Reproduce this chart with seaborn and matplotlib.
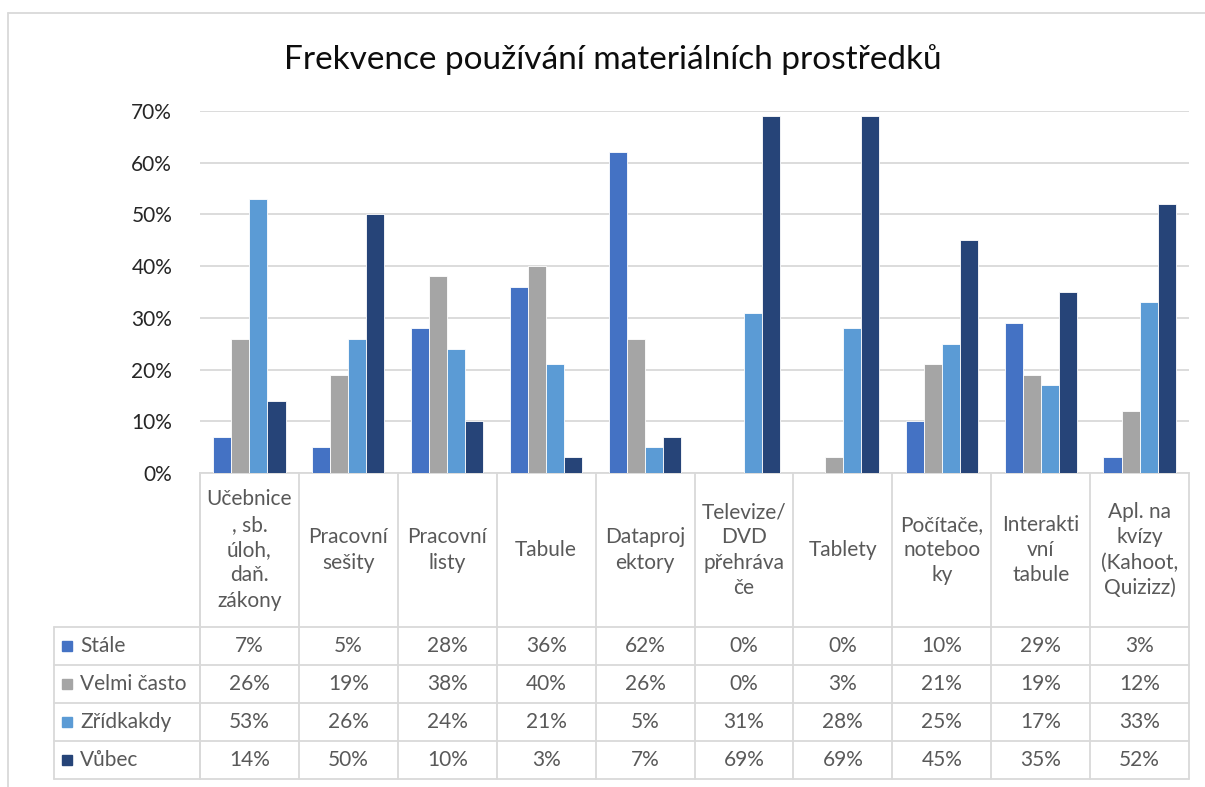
import matplotlib.pyplot as plt
import matplotlib.transforms as mtransforms
import pandas as pd
import seaborn as sns
from matplotlib.patches import Rectangle

categories = [
    "Učebnice\n, sb.\núloh,\ndaň.\nzákony",
    "Pracovní\nsešity",
    "Pracovní\nlisty",
    "Tabule",
    "Dataproj\nektory",
    "Televize/\nDVD\npřehráva\nče",
    "Tablety",
    "Počítače,\nnoteboo\nky",
    "Interakti\nvní\ntabule",
    "Apl. na\nkvízy\n(Kahoot,\nQuizizz)",
]
series = ["Stále", "Velmi často", "Zřídkakdy", "Vůbec"]
stale = [7, 5, 28, 36, 62, 0, 0, 10, 29, 3]
velmi_casto = [26, 19, 38, 40, 26, 0, 3, 21, 19, 12]
zridkakdy = [53, 26, 24, 21, 5, 31, 28, 25, 17, 33]
vubec = [14, 50, 10, 3, 7, 69, 69, 45, 35, 52]
yticks = [0, 10, 20, 30, 40, 50, 60, 70]
colors = ["#4472C4", "#A5A5A5", "#5B9BD5", "#264478"]
title = "Frekvence používání materiálních prostředků"

values = [stale, velmi_casto, zridkakdy, vubec]
df = pd.DataFrame({
    "kategorie": categories * len(series),
    "rada": [s for s in series for _ in categories],
    "hodnota": [v / 100 for vals in values for v in vals],
})

sns.set_theme(style="white")
plt.rcParams["font.family"] = ["Lato", "DejaVu Sans"]

W, H = 1205, 787
grid_c = "#D9D9D9"
text_c = "#595959"
fs = 15
fig = plt.figure(figsize=(W / 100, H / 100), dpi=100)

# plot area in pixel coordinates of the reference
x0, x1, y_top, y_axis = 200, 1189, 111, 473
ax = fig.add_axes([x0 / W, 1 - y_axis / H, (x1 - x0) / W, (y_axis - y_top) / H])
sns.barplot(data=df, x="kategorie", y="hodnota", hue="rada", palette=colors,
            saturation=1, width=0.73, edgecolor="white", linewidth=0.6,
            legend=False, ax=ax, zorder=3)
ax.set_ylim(0, 0.7)
ax.set_xlim(-0.5, len(categories) - 0.5)
ax.set_yticks([t / 100 for t in yticks])
ax.set_yticklabels([f"{t}%" for t in yticks], fontsize=fs, color="#262626")
ax.tick_params(axis="y", length=0, pad=20)
ax.set_xticks([])
ax.set_xlabel("")
ax.set_ylabel("")
ax.grid(axis="y", color=grid_c, linewidth=1.3, zorder=0)
for side in ["left", "right", "top"]:
    ax.spines[side].set_visible(False)
ax.spines["bottom"].set_color(grid_c)
ax.spines["bottom"].set_linewidth(1.3)

# overlay in pixel coordinates for the title, frame and data table
ov = fig.add_axes([0, 0, 1, 1], zorder=5)
ov.set_xlim(0, W)
ov.set_ylim(H, 0)
ov.axis("off")
bt = mtransforms.blended_transform_factory(ax.transData, ov.transData)

ov.plot([8, W], [13, 13], color=grid_c, lw=1.3)
ov.plot([8, 8], [13, H], color=grid_c, lw=1.3)
ov.text(613, 60, title, fontsize=24, ha="center", va="center", color="#0d0d0d")

row_edges = [627, 665, 703, 741, 779]
tab_left = 54
n = len(categories)
for i in range(n + 1):
    ov.plot([i - 0.5, i - 0.5], [y_axis, row_edges[-1]], color=grid_c, lw=1.3,
            transform=bt)
ov.plot([x0, x0], [y_axis, row_edges[-1]], color=grid_c, lw=1.3)
ov.plot([tab_left, tab_left], [row_edges[0], row_edges[-1]], color=grid_c, lw=1.3)
for y in row_edges:
    ov.plot([tab_left, x1], [y, y], color=grid_c, lw=1.3)

for i, lab in enumerate(categories):
    ov.text(i, (y_axis + row_edges[0]) / 2, lab, ha="center", va="center",
            fontsize=fs, color=text_c, linespacing=1.33, transform=bt)

for r, (name, vals, c) in enumerate(zip(series, values, colors)):
    yc = (row_edges[r] + row_edges[r + 1]) / 2
    ov.add_patch(Rectangle((62, yc - 5), 10, 10, color=c))
    ov.text(80, yc, name, ha="left", va="center", fontsize=fs, color=text_c)
    for i, v in enumerate(vals):
        ov.text(i, yc, f"{v}%", ha="center", va="center", fontsize=fs,
                color=text_c, transform=bt)

fig.savefig("out.png", dpi=100, facecolor="white")
